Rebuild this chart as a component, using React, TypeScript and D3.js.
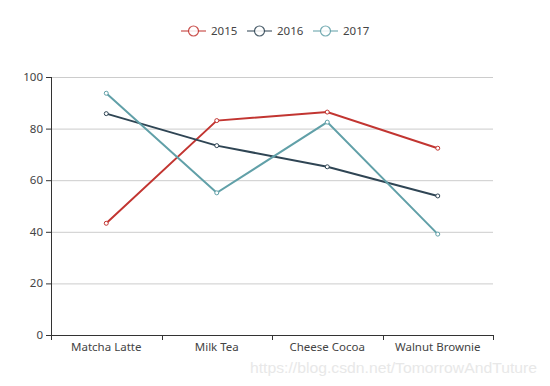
import React from 'react';
import * as d3 from 'd3';

const categories = ['Matcha Latte', 'Milk Tea', 'Cheese Cocoa', 'Walnut Brownie'];
const seriesNames = ['2015', '2016', '2017'];
const values2015 = [43.3, 83.1, 86.4, 72.4];
const values2016 = [85.8, 73.4, 65.2, 53.9];
const values2017 = [93.7, 55.1, 82.5, 39.1];
const yTicks = [0, 20, 40, 60, 80, 100];
const colors = ['#c23531', '#2f4554', '#61a0a8'];

const W = 550;
const H = 386;
const left = 51;
const right = 493;
const top = 77;
const bottom = 335;
const font = '"Noto Sans", "DejaVu Sans", sans-serif';

export default function App() {
  const x = d3.scaleBand<string>().domain(categories).range([left, right]);
  const y = d3.scaleLinear().domain([0, 100]).range([bottom, top]);
  const series = [values2015, values2016, values2017];
  const line = d3
    .line<number>()
    .x((d, i) => (x(categories[i]) as number) + x.bandwidth() / 2)
    .y((d) => y(d));

  // legend layout: icon 25, gap 5, text, item gap 10
  const textW = 26;
  const itemW = 25 + 5 + textW;
  const legendTotal = seriesNames.length * itemW + (seriesNames.length - 1) * 10;
  const legendX = (W - legendTotal) / 2;

  return (
    <svg width={W} height={H} style={{ position: 'absolute', left: 0, top: 0, background: '#fff' }} fontFamily={font}>
      {/* legend */}
      {seriesNames.map((name, i) => {
        const lx = legendX + i * (itemW + 10);
        return (
          <g key={name} transform={`translate(${lx},31)`}>
            <line x1={0} x2={25} y1={0} y2={0} stroke={colors[i]} strokeWidth={1.2} opacity={0.85} />
            <circle cx={12.5} cy={0} r={5} fill="#fff" stroke={colors[i]} strokeWidth={1.2} opacity={0.85} />
            <text x={30} y={4} fontSize={11.5} fill="#444">{name}</text>
          </g>
        );
      })}

      {/* grid */}
      {yTicks.filter((t) => t > 0).map((t) => (
        <line key={t} x1={left} x2={right} y1={y(t) + 0.5} y2={y(t) + 0.5} stroke="#ccc" strokeWidth={1} />
      ))}

      {/* y axis */}
      <line x1={left + 0.5} x2={left + 0.5} y1={top} y2={bottom} stroke="#333" strokeWidth={1} />
      {yTicks.map((t) => (
        <g key={t}>
          <line x1={left - 5} x2={left} y1={y(t) + 0.5} y2={y(t) + 0.5} stroke="#333" />
          <text x={left - 8} y={y(t) + 4} fontSize={11.5} fill="#444" textAnchor="end">{t}</text>
        </g>
      ))}

      {/* x axis */}
      <line x1={left} x2={right} y1={bottom + 0.5} y2={bottom + 0.5} stroke="#333" strokeWidth={1} />
      {[...categories.map((c) => x(c) as number), right].map((tx, i) => (
        <line key={i} x1={Math.round(tx) + 0.5} x2={Math.round(tx) + 0.5} y1={bottom} y2={bottom + 5} stroke="#333" />
      ))}
      {categories.map((c) => (
        <text key={c} x={(x(c) as number) + x.bandwidth() / 2} y={bottom + 16} fontSize={11.5} fill="#444" textAnchor="middle">{c}</text>
      ))}

      {/* series */}
      {series.map((vals, si) => (
        <g key={seriesNames[si]}>
          <path d={line(vals) || ''} fill="none" stroke={colors[si]} strokeWidth={2} />
          {vals.map((v, i) => (
            <circle
              key={i}
              cx={(x(categories[i]) as number) + x.bandwidth() / 2}
              cy={y(v)}
              r={2}
              fill="#fff"
              stroke={colors[si]}
              strokeWidth={1}
            />
          ))}
        </g>
      ))}

      {/* watermark */}
      <text x={250} y={373} fontSize={15} fill="#e8e8e8" fontFamily='"Liberation Sans", Arial, sans-serif' textLength={287} lengthAdjust="spacingAndGlyphs">https://blog.csdn.net/TomorrowAndTuture</text>
    </svg>
  );
}
